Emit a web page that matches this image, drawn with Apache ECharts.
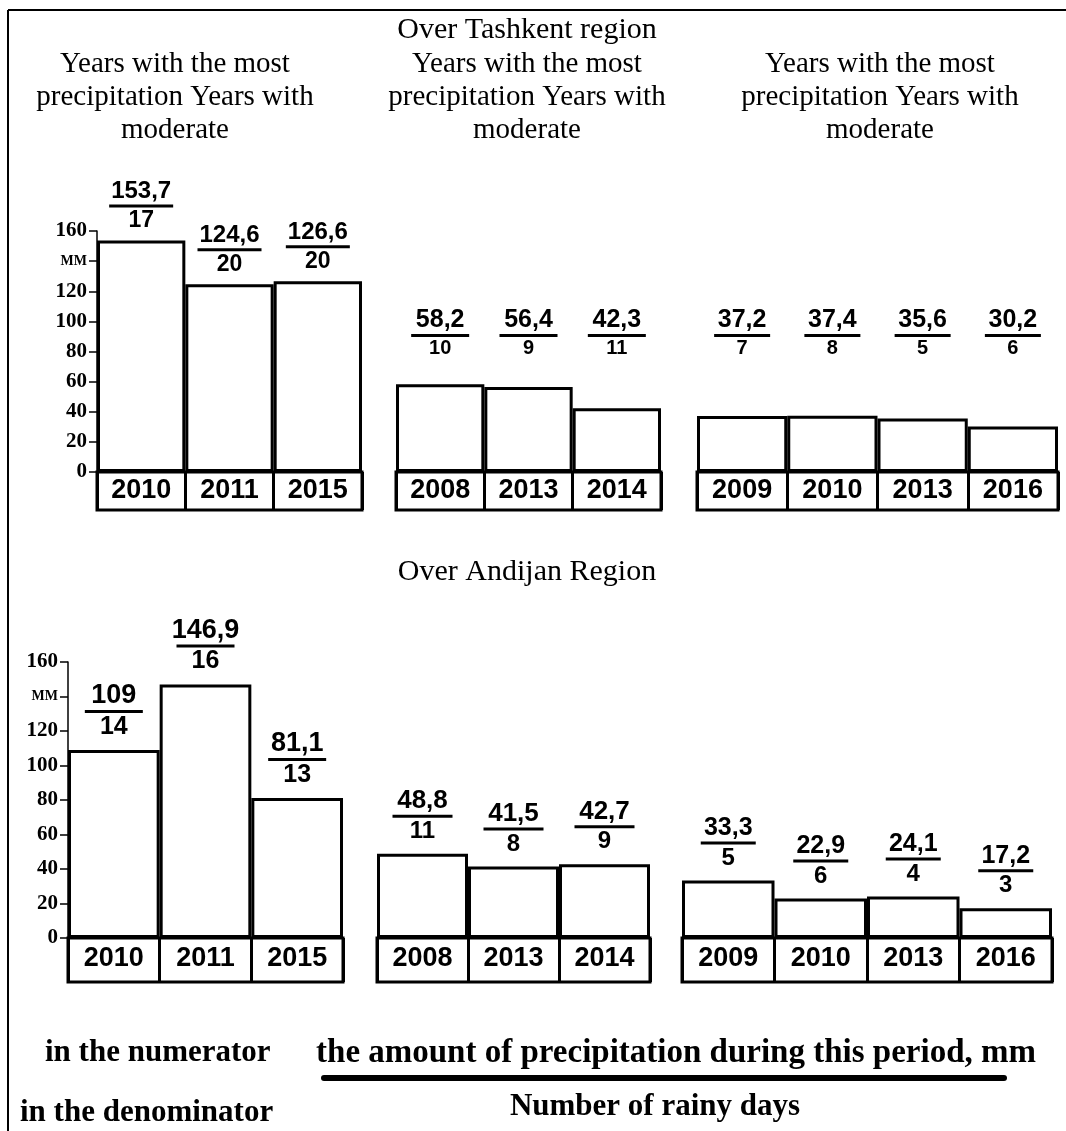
<!DOCTYPE html>
<html><head><meta charset="utf-8">
<script src="https://cdn.jsdelivr.net/npm/echarts@6/dist/echarts.min.js"></script>
<style>html,body{margin:0;padding:0;background:#fff}#c{width:1066px;height:1131px}</style>
</head><body><div id="c"></div>
<script>
// ---- data ----
const yTicks = [0, 20, 40, 60, 80, 100, 120, 140, 160]; // tick at 140 is labelled with the unit
const unitLabel = 'ММ';
const tashMaxYears = ['2010', '2011', '2015'];
const tashMaxMm = [153.7, 124.6, 126.6];
const tashMaxDays = [17, 20, 20];
const tashMidYears = ['2008', '2013', '2014'];
const tashMidMm = [58.2, 56.4, 42.3];
const tashMidDays = [10, 9, 11];
const tashLowYears = ['2009', '2010', '2013', '2016'];
const tashLowMm = [37.2, 37.4, 35.6, 30.2];
const tashLowDays = [7, 8, 5, 6];
const andMaxYears = ['2010', '2011', '2015'];
const andMaxMm = [109, 146.9, 81.1];
const andMaxDays = [14, 16, 13];
const andMidYears = ['2008', '2013', '2014'];
const andMidMm = [48.8, 41.5, 42.7];
const andMidDays = [11, 8, 9];
const andLowYears = ['2009', '2010', '2013', '2016'];
const andLowMm = [33.3, 22.9, 24.1, 17.2];
const andLowDays = [5, 6, 4, 3];

const titleTashkent = 'Over Tashkent region';
const titleAndijan = 'Over Andijan Region';
const panelTitle = ['Years with the most', 'precipitation Years with', 'moderate'];
const legendNum = 'in the numerator';
const legendNumText = 'the amount of precipitation during this period, mm';
const legendDen = 'in the denominator';
const legendDenText = 'Number of rainy days';

// ---- layout ----
const SANS = 'Liberation Sans, Arial, sans-serif';
const SERIF = 'Liberation Serif, Times New Roman, serif';
const panels = [
  {years: tashMaxYears, mm: tashMaxMm, days: tashMaxDays, left: 97, top: 231, width: 265, height: 241, boxH: 38, showY: true, mode: 'bar', num: 24, den: 23, lineW: 64, dist: 8, yrMargin: 5},
  {years: tashMidYears, mm: tashMidMm, days: tashMidDays, left: 396, top: 231, width: 265, height: 241, boxH: 38, showY: false, mode: 'row', num: 25, den: 20, lineW: 58, rowOffset: -128, yrMargin: 5},
  {years: tashLowYears, mm: tashLowMm, days: tashLowDays, left: 697, top: 231, width: 361, height: 241, boxH: 38, showY: false, mode: 'row', num: 25, den: 20, lineW: 56, rowOffset: -128, yrMargin: 5},
  {years: andMaxYears, mm: andMaxMm, days: andMaxDays, left: 68, top: 662, width: 275, height: 276, boxH: 44, showY: true, mode: 'bar', num: 27, den: 25, lineW: 58, dist: 10, yrMargin: 7},
  {years: andMidYears, mm: andMidMm, days: andMidDays, left: 377, top: 662, width: 273, height: 276, boxH: 44, showY: false, mode: 'bar', num: 26, den: 24, lineW: 60, dist: 10, yrMargin: 7},
  {years: andLowYears, mm: andLowMm, days: andLowDays, left: 682, top: 662, width: 370, height: 276, boxH: 44, showY: false, mode: 'bar', num: 25, den: 24, lineW: 55, dist: 10, yrMargin: 7}
];

function fmt(v) { return String(v).replace('.', ','); }
function frac(mm, days) { return '{n|' + fmt(mm) + '}\n{l|}\n{d|' + days + '}'; }
function richFor(p) {
  return {
    n: {fontFamily: SANS, fontWeight: 'bold', fontSize: p.num, lineHeight: p.num, color: '#000', align: 'center'},
    l: {width: p.lineW, height: 3, lineHeight: 5, backgroundColor: '#000', align: 'center'},
    d: {fontFamily: SANS, fontWeight: 'bold', fontSize: p.den, lineHeight: p.den + 1, color: '#000', align: 'center'}
  };
}

const grid = [], xAxis = [], yAxis = [], series = [];
panels.forEach(function (p) {
  const gi = grid.length;
  grid.push({left: p.left, top: p.top, width: p.width, height: p.height, outerBoundsMode: 'none'});
  grid.push({left: p.left, top: p.top + p.height, width: p.width, height: p.boxH, show: true, borderWidth: 3, borderColor: '#000', backgroundColor: 'transparent', outerBoundsMode: 'none'});
  const xi = xAxis.length;
  xAxis.push({
    type: 'category', gridIndex: gi, data: p.years, boundaryGap: true,
    axisLine: {show: false}, axisTick: {show: false}, splitLine: {show: false},
    axisLabel: {interval: 0, margin: p.yrMargin, color: '#000', fontFamily: SANS, fontWeight: 'bold', fontSize: 27, hideOverlap: false}
  });
  xAxis.push({
    type: 'category', gridIndex: gi + 1, data: p.years, boundaryGap: true,
    axisLine: {show: false}, axisTick: {show: false}, axisLabel: {show: false},
    splitLine: {show: true, interval: 0, lineStyle: {color: '#000', width: 3}}
  });
  if (p.mode === 'row') {
    xAxis.push({
      type: 'category', gridIndex: gi, data: p.years, position: 'top', offset: p.rowOffset,
      axisLine: {show: false}, axisTick: {show: false}, splitLine: {show: false},
      axisLabel: {interval: 0, margin: 0, hideOverlap: false, formatter: function (v, i) { return frac(p.mm[i], p.days[i]); }, rich: richFor(p)}
    });
  }
  const yi = yAxis.length;
  yAxis.push({
    type: 'value', gridIndex: gi, min: yTicks[0], max: yTicks[yTicks.length - 1], interval: yTicks[1] - yTicks[0],
    show: p.showY, splitLine: {show: false},
    axisLine: {show: true, lineStyle: {color: '#000', width: 1.5}},
    axisTick: {show: true, length: 8, lineStyle: {color: '#000', width: 1.5}},
    axisLabel: {
      margin: 10, color: '#000', fontFamily: SERIF, fontWeight: 'bold', fontSize: 21,
      formatter: function (v) { return v === 140 ? '{u|' + unitLabel + '}' : String(v); },
      rich: {u: {fontFamily: SERIF, fontWeight: 'bold', fontSize: 14, color: '#000'}}
    }
  });
  yAxis.push({type: 'value', gridIndex: gi + 1, min: 0, max: 1, show: false});
  series.push({
    type: 'bar', xAxisIndex: xi, yAxisIndex: yi, data: p.mm, barCategoryGap: '0%',
    itemStyle: {color: '#fff', borderColor: '#000', borderWidth: 3},
    label: p.mode === 'bar' ? {
      show: true, position: 'top', distance: p.dist,
      formatter: function (prm) { return frac(p.mm[prm.dataIndex], p.days[prm.dataIndex]); },
      rich: richFor(p)
    } : {show: false},
    emphasis: {disabled: true}, silent: true
  });
});

function txt(text, x, y, font, align) {
  return {type: 'text', x: x, y: y, style: {text: text, font: font, fill: '#000', textAlign: align || 'center', textVerticalAlign: 'middle'}};
}
const titleFont = '29px ' + SERIF;
const legFont = 'bold 31px ' + SERIF;
const graphic = [
  {type: 'line', shape: {x1: 8, y1: 10, x2: 1066, y2: 10}, style: {stroke: '#000', lineWidth: 2}},
  {type: 'line', shape: {x1: 8, y1: 10, x2: 8, y2: 1131}, style: {stroke: '#000', lineWidth: 2}},
  txt(titleTashkent, 527, 30, '30px ' + SERIF),
  txt(titleAndijan, 527, 572, '30px ' + SERIF),
  txt(legendNum, 45, 1053, legFont, 'left'),
  txt(legendNumText, 676, 1053, 'bold 33px ' + SERIF),
  {type: 'line', shape: {x1: 324, y1: 1078, x2: 1004, y2: 1078}, style: {stroke: '#000', lineWidth: 6, lineCap: 'round'}},
  txt(legendDen, 20, 1113, legFont, 'left'),
  txt(legendDenText, 655, 1107, legFont)
];
[175, 527, 880].forEach(function (cx) {
  panelTitle.forEach(function (line, k) { graphic.push(txt(line, cx, 64 + k * 33, titleFont)); });
});

const chart = echarts.init(document.getElementById('c'), null, {renderer: 'canvas'});
chart.setOption({
  animation: false, backgroundColor: '#fff',
  grid: grid, xAxis: xAxis, yAxis: yAxis, series: series, graphic: graphic
});
</script></body></html>
